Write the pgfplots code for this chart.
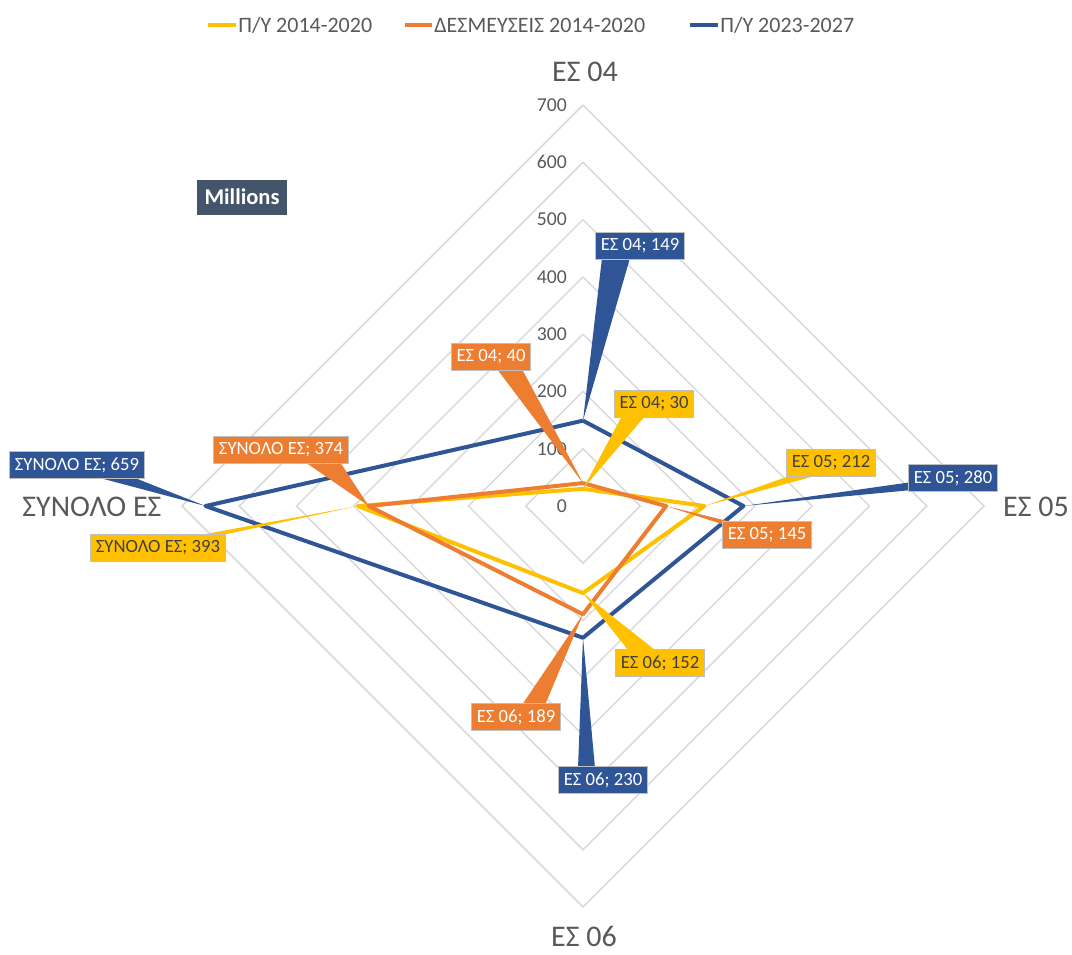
\documentclass[border=0pt]{standalone}
\usepackage{pgfplots}
\pgfplotsset{compat=1.18}
\usepackage{pgfplotstable}
\usepgfplotslibrary{polar}
\usepackage{fontspec}
\setmainfont{Carlito}
\definecolor{cY}{HTML}{FFC000}
\definecolor{cO}{HTML}{ED7D31}
\definecolor{cB}{HTML}{2F5597}
\definecolor{cG}{HTML}{D9D9D9}
\definecolor{cT}{HTML}{595959}
\definecolor{cTd}{HTML}{404040}
\definecolor{cM}{HTML}{44546A}
\definecolor{cBord}{HTML}{BFBFBF}

% angle: ES 04 = 90, ES 05 = 0, ES 06 = 270, SYNOLO = 180
\pgfplotstableread{
ang py desm pynew
90  30  40  149
0   212 145 280
270 152 189 230
180 393 374 659
90  30  40  149
}\data

% #1 fill, #2 text colour, #3 position, #4 text, #5 base point 1, #6 base point 2, #7 tip
\newcommand{\callout}[7]{%
  \fill[#1] #5 -- (#7) -- #6 -- cycle;
  \node[fill=#1, draw=cBord, line width=0.6pt, text=#2,
        font=\fontsize{11.2}{13}\selectfont, inner xsep=3pt, inner ysep=0pt,
        minimum height=16pt] at #3 {#4};
}

\begin{document}
\begin{tikzpicture}
\path[use as bounding box] (0pt,0pt) rectangle (643.2pt,-573pt);
\begin{polaraxis}[
  at={(349.8pt,-303.6pt)}, anchor=center,
  scale only axis, width=481.2pt, height=481.2pt,
  ymin=0, ymax=700,
  hide axis, clip=false,
]
% diamond grid
\addplot[cG, line width=0.9pt] coordinates {(90,100)(0,100)(270,100)(180,100)(90,100)};
\addplot[cG, line width=0.9pt] coordinates {(90,200)(0,200)(270,200)(180,200)(90,200)};
\addplot[cG, line width=0.9pt] coordinates {(90,300)(0,300)(270,300)(180,300)(90,300)};
\addplot[cG, line width=0.9pt] coordinates {(90,400)(0,400)(270,400)(180,400)(90,400)};
\addplot[cG, line width=0.9pt] coordinates {(90,500)(0,500)(270,500)(180,500)(90,500)};
\addplot[cG, line width=0.9pt] coordinates {(90,600)(0,600)(270,600)(180,600)(90,600)};
\addplot[cG, line width=0.9pt] coordinates {(90,700)(0,700)(270,700)(180,700)(90,700)};
% series
\addplot[cY, line width=2.4pt, line join=round] table[x=ang, y=py] {\data};
\addplot[cO, line width=2.4pt, line join=round] table[x=ang, y=desm] {\data};
\addplot[cB, line width=2.4pt, line join=round] table[x=ang, y=pynew] {\data};
% tick labels
\foreach \r in {0,100,200,300,400,500,600,700}{
  \edef\tmp{\noexpand\node[anchor=east, text=cT, inner sep=0pt, font=\noexpand\fontsize{11.8}{13}\noexpand\selectfont] at ([xshift=-9.5pt]axis cs:90,\r) {\r};}
  \tmp
}
% tips
\coordinate (yA) at (axis cs:90,30);
\coordinate (yB) at (axis cs:0,212);
\coordinate (yC) at (axis cs:270,152);
\coordinate (yD) at (axis cs:180,393);
\coordinate (oA) at (axis cs:90,40);
\coordinate (oB) at (axis cs:0,145);
\coordinate (oC) at (axis cs:270,189);
\coordinate (oD) at (axis cs:180,374);
\coordinate (bA) at (axis cs:90,149);
\coordinate (bB) at (axis cs:0,280);
\coordinate (bC) at (axis cs:270,230);
\coordinate (bD) at (axis cs:180,659);
\end{polaraxis}

\begin{scope}[x=0.6pt, y=-0.6pt]
% category labels
\node[text=cT, font=\fontsize{18}{20}\selectfont] at (585,72) {ΕΣ 04};
\node[text=cT, font=\fontsize{18}{20}\selectfont] at (1036,507) {ΕΣ 05};
\node[text=cT, font=\fontsize{18}{20}\selectfont] at (584,936) {ΕΣ 06};
\node[text=cT, font=\fontsize{18}{20}\selectfont] at (92,507) {ΣΥΝΟΛΟ ΕΣ};
% legend
\draw[cY, line width=2.4pt] (208,25) -- (236,25);
\node[anchor=west, text=cT, inner sep=0pt, font=\fontsize{13.2}{15}\selectfont] at (238,25) {Π/Υ 2014-2020};
\draw[cO, line width=2.4pt] (405,25) -- (432,25);
\node[anchor=west, text=cT, inner sep=0pt, font=\fontsize{13.2}{15}\selectfont] at (434,25) {ΔΕΣΜΕΥΣΕΙΣ 2014-2020};
\draw[cB, line width=2.4pt] (690,25) -- (718,25);
\node[anchor=west, text=cT, inner sep=0pt, font=\fontsize{13.2}{15}\selectfont] at (720,25) {Π/Υ 2023-2027};
% Millions
\node[fill=cM, text=white, font=\bfseries\fontsize{13.5}{15}\selectfont,
      minimum width=54pt, minimum height=21pt, inner sep=0pt] at (242,197) {Millions};
% callouts
\callout{cB}{white}{(640,246)}{ΕΣ 04; 149}{(602,258)}{(630,258)}{bA}
\callout{cY}{cTd}{(654,404)}{ΕΣ 04; 30}{(622,416)}{(645,416)}{yA}
\callout{cO}{white}{(491,357)}{ΕΣ 04; 40}{(497,369)}{(522,369)}{oA}
\callout{cY}{cTd}{(831,463)}{ΕΣ 05; 212}{(795,474)}{(822,474)}{yB}
\callout{cB}{white}{(953,478)}{ΕΣ 05; 280}{(912,482)}{(912,490)}{bB}
\callout{cO}{white}{(767,535)}{ΕΣ 05; 145}{(725,525)}{(740,524)}{oB}
\callout{cB}{white}{(77,465)}{ΣΥΝΟΛΟ ΕΣ; 659}{(100,478)}{(135,478)}{bD}
\callout{cO}{white}{(281,450)}{ΣΥΝΟΛΟ ΕΣ; 374}{(305,462)}{(340,462)}{oD}
\callout{cY}{cTd}{(158,548)}{ΣΥΝΟΛΟ ΕΣ; 393}{(200,535)}{(222,535)}{yD}
\callout{cY}{cTd}{(660,663)}{ΕΣ 06; 152}{(628,650)}{(655,650)}{yC}
\callout{cO}{white}{(516,717)}{ΕΣ 06; 189}{(522,705)}{(545,705)}{oC}
\callout{cB}{white}{(603,780)}{ΕΣ 06; 230}{(578,768)}{(595,768)}{bC}
\end{scope}
\end{tikzpicture}
\end{document}
